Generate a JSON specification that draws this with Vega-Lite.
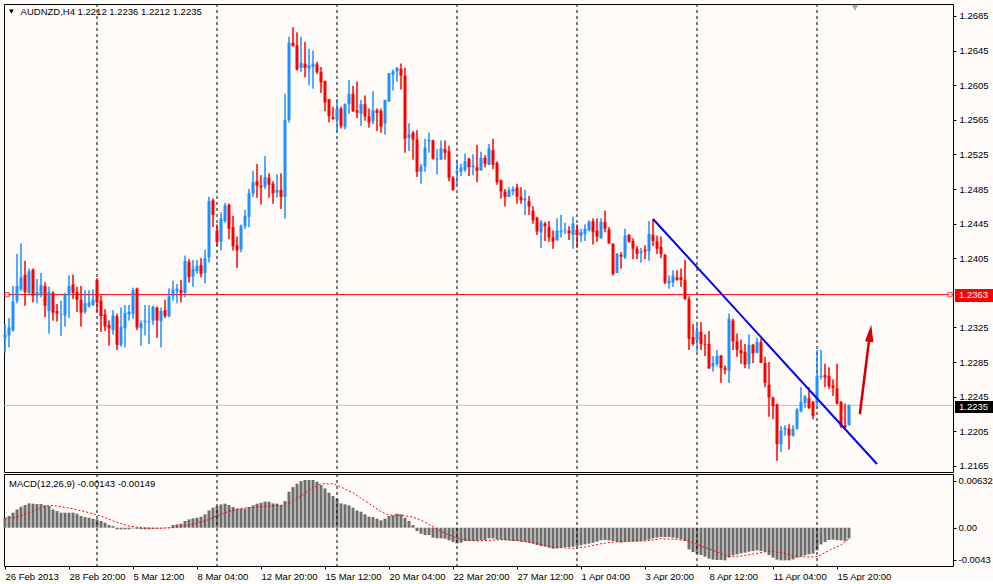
{
  "$schema": "https://vega.github.io/schema/vega-lite/v6.json",
  "background": "#FFFBF8",
  "padding": {"left": 2, "top": 3, "right": 0, "bottom": 0},
  "spacing": 0,
  "datasets": {
    "bars": [
      {"i":0,"o":1.2313,"h":1.2329,"l":1.2296,"c":1.2317,"m":0.00125},
      {"i":1,"o":1.2316,"h":1.2336,"l":1.2302,"c":1.2325,"m":0.00157},
      {"i":2,"o":1.2322,"h":1.2373,"l":1.2320,"c":1.2355,"m":0.00202},
      {"i":3,"o":1.2356,"h":1.2410,"l":1.2353,"c":1.2373,"m":0.00246},
      {"i":4,"o":1.2369,"h":1.2422,"l":1.2367,"c":1.2383,"m":0.00282},
      {"i":5,"o":1.2386,"h":1.2402,"l":1.2350,"c":1.2366,"m":0.00305},
      {"i":6,"o":1.2365,"h":1.2393,"l":1.2364,"c":1.2390,"m":0.00327},
      {"i":7,"o":1.2392,"h":1.2393,"l":1.2354,"c":1.2362,"m":0.00323},
      {"i":8,"o":1.2362,"h":1.2381,"l":1.2353,"c":1.2366,"m":0.00318},
      {"i":9,"o":1.2364,"h":1.2388,"l":1.2360,"c":1.2374,"m":0.00318},
      {"i":10,"o":1.2373,"h":1.2377,"l":1.2337,"c":1.2350,"m":0.00300},
      {"i":11,"o":1.2344,"h":1.2372,"l":1.2318,"c":1.2366,"m":0.00291},
      {"i":12,"o":1.2365,"h":1.2367,"l":1.2333,"c":1.2342,"m":0.00246},
      {"i":13,"o":1.2344,"h":1.2352,"l":1.2332,"c":1.2341,"m":0.00224},
      {"i":14,"o":1.2340,"h":1.2356,"l":1.2315,"c":1.2341,"m":0.00202},
      {"i":15,"o":1.2339,"h":1.2365,"l":1.2326,"c":1.2363,"m":0.00202},
      {"i":16,"o":1.2362,"h":1.2385,"l":1.2336,"c":1.2373,"m":0.00202},
      {"i":17,"o":1.2375,"h":1.2386,"l":1.2358,"c":1.2365,"m":0.00202},
      {"i":18,"o":1.2366,"h":1.2372,"l":1.2343,"c":1.2357,"m":0.00188},
      {"i":19,"o":1.2357,"h":1.2373,"l":1.2326,"c":1.2342,"m":0.00157},
      {"i":20,"o":1.2343,"h":1.2368,"l":1.2341,"c":1.2353,"m":0.00143},
      {"i":21,"o":1.2350,"h":1.2368,"l":1.2348,"c":1.2354,"m":0.00134},
      {"i":22,"o":1.2351,"h":1.2369,"l":1.2350,"c":1.2357,"m":0.00121},
      {"i":23,"o":1.2380,"h":1.2382,"l":1.2343,"c":1.2354,"m":0.00112},
      {"i":24,"o":1.2356,"h":1.2362,"l":1.2320,"c":1.2338,"m":0.00090},
      {"i":25,"o":1.2340,"h":1.2346,"l":1.2321,"c":1.2326,"m":0.00067},
      {"i":26,"o":1.2328,"h":1.2333,"l":1.2304,"c":1.2324,"m":0.00036},
      {"i":27,"o":1.2322,"h":1.2345,"l":1.2317,"c":1.2339,"m":0.00022},
      {"i":28,"o":1.2338,"h":1.2341,"l":1.2299,"c":1.2305,"m":-0.00022},
      {"i":29,"o":1.2305,"h":1.2348,"l":1.2303,"c":1.2326,"m":-0.00022},
      {"i":30,"o":1.2324,"h":1.2351,"l":1.2302,"c":1.2342,"m":-0.00022},
      {"i":31,"o":1.2340,"h":1.2351,"l":1.2333,"c":1.2343,"m":-0.00022},
      {"i":32,"o":1.2341,"h":1.2371,"l":1.2335,"c":1.2368,"m":-0.00010},
      {"i":33,"o":1.2370,"h":1.2371,"l":1.2322,"c":1.2325,"m":-0.00015},
      {"i":34,"o":1.2324,"h":1.2333,"l":1.2304,"c":1.2330,"m":-0.00020},
      {"i":35,"o":1.2331,"h":1.2351,"l":1.2316,"c":1.2333,"m":-0.00022},
      {"i":36,"o":1.2331,"h":1.2351,"l":1.2306,"c":1.2332,"m":-0.00022},
      {"i":37,"o":1.2333,"h":1.2350,"l":1.2328,"c":1.2349,"m":-0.00015},
      {"i":38,"o":1.2348,"h":1.2349,"l":1.2313,"c":1.2333,"m":-0.00013},
      {"i":39,"o":1.2332,"h":1.2348,"l":1.2302,"c":1.2344,"m":-0.00009},
      {"i":40,"o":1.2345,"h":1.2357,"l":1.2336,"c":1.2338,"m":-0.00004},
      {"i":41,"o":1.2338,"h":1.2370,"l":1.2337,"c":1.2361,"m":0.00009},
      {"i":42,"o":1.2361,"h":1.2379,"l":1.2356,"c":1.2369,"m":0.00036},
      {"i":43,"o":1.2367,"h":1.2375,"l":1.2353,"c":1.2370,"m":0.00045},
      {"i":44,"o":1.2368,"h":1.2380,"l":1.2354,"c":1.2365,"m":0.00054},
      {"i":45,"o":1.2365,"h":1.2408,"l":1.2360,"c":1.2402,"m":0.00090},
      {"i":46,"o":1.2401,"h":1.2404,"l":1.2377,"c":1.2383,"m":0.00112},
      {"i":47,"o":1.2384,"h":1.2403,"l":1.2372,"c":1.2393,"m":0.00125},
      {"i":48,"o":1.2390,"h":1.2403,"l":1.2387,"c":1.2396,"m":0.00134},
      {"i":49,"o":1.2397,"h":1.2405,"l":1.2383,"c":1.2387,"m":0.00148},
      {"i":50,"o":1.2388,"h":1.2415,"l":1.2376,"c":1.2405,"m":0.00179},
      {"i":51,"o":1.2406,"h":1.2476,"l":1.2400,"c":1.2471,"m":0.00233},
      {"i":52,"o":1.2472,"h":1.2474,"l":1.2441,"c":1.2455,"m":0.00269},
      {"i":53,"o":1.2437,"h":1.2444,"l":1.2419,"c":1.2424,"m":0.00291},
      {"i":54,"o":1.2424,"h":1.2458,"l":1.2414,"c":1.2451,"m":0.00314},
      {"i":55,"o":1.2448,"h":1.2469,"l":1.2446,"c":1.2466,"m":0.00323},
      {"i":56,"o":1.2467,"h":1.2468,"l":1.2427,"c":1.2439,"m":0.00305},
      {"i":57,"o":1.2441,"h":1.2454,"l":1.2414,"c":1.2419,"m":0.00278},
      {"i":58,"o":1.2420,"h":1.2430,"l":1.2394,"c":1.2414,"m":0.00255},
      {"i":59,"o":1.2415,"h":1.2444,"l":1.2412,"c":1.2442,"m":0.00255},
      {"i":60,"o":1.2442,"h":1.2461,"l":1.2439,"c":1.2454,"m":0.00255},
      {"i":61,"o":1.2453,"h":1.2485,"l":1.2441,"c":1.2480,"m":0.00278},
      {"i":62,"o":1.2480,"h":1.2506,"l":1.2476,"c":1.2493,"m":0.00300},
      {"i":63,"o":1.2494,"h":1.2514,"l":1.2475,"c":1.2489,"m":0.00323},
      {"i":64,"o":1.2489,"h":1.2501,"l":1.2467,"c":1.2487,"m":0.00336},
      {"i":65,"o":1.2488,"h":1.2523,"l":1.2485,"c":1.2499,"m":0.00350},
      {"i":66,"o":1.2498,"h":1.2503,"l":1.2475,"c":1.2490,"m":0.00350},
      {"i":67,"o":1.2491,"h":1.2494,"l":1.2468,"c":1.2480,"m":0.00327},
      {"i":68,"o":1.2481,"h":1.2502,"l":1.2475,"c":1.2484,"m":0.00323},
      {"i":69,"o":1.2484,"h":1.2503,"l":1.2462,"c":1.2476,"m":0.00305},
      {"i":70,"o":1.2476,"h":1.2595,"l":1.2451,"c":1.2565,"m":0.00358},
      {"i":71,"o":1.2565,"h":1.2661,"l":1.2562,"c":1.2654,"m":0.00484},
      {"i":72,"o":1.2654,"h":1.2672,"l":1.2650,"c":1.2650,"m":0.00546},
      {"i":73,"o":1.2651,"h":1.2666,"l":1.2622,"c":1.2623,"m":0.00591},
      {"i":74,"o":1.2625,"h":1.2661,"l":1.2620,"c":1.2631,"m":0.00627},
      {"i":75,"o":1.2630,"h":1.2655,"l":1.2614,"c":1.2625,"m":0.00641},
      {"i":76,"o":1.2624,"h":1.2647,"l":1.2605,"c":1.2628,"m":0.00641},
      {"i":77,"o":1.2626,"h":1.2645,"l":1.2601,"c":1.2630,"m":0.00641},
      {"i":78,"o":1.2629,"h":1.2632,"l":1.2618,"c":1.2620,"m":0.00618},
      {"i":79,"o":1.2620,"h":1.2626,"l":1.2596,"c":1.2608,"m":0.00573},
      {"i":80,"o":1.2610,"h":1.2610,"l":1.2575,"c":1.2585,"m":0.00529},
      {"i":81,"o":1.2589,"h":1.2589,"l":1.2562,"c":1.2569,"m":0.00470},
      {"i":82,"o":1.2568,"h":1.2580,"l":1.2565,"c":1.2566,"m":0.00426},
      {"i":83,"o":1.2565,"h":1.2589,"l":1.2550,"c":1.2578,"m":0.00390},
      {"i":84,"o":1.2578,"h":1.2580,"l":1.2555,"c":1.2558,"m":0.00327},
      {"i":85,"o":1.2557,"h":1.2584,"l":1.2554,"c":1.2583,"m":0.00314},
      {"i":86,"o":1.2583,"h":1.2611,"l":1.2572,"c":1.2595,"m":0.00300},
      {"i":87,"o":1.2595,"h":1.2604,"l":1.2574,"c":1.2575,"m":0.00269},
      {"i":88,"o":1.2576,"h":1.2609,"l":1.2567,"c":1.2573,"m":0.00233},
      {"i":89,"o":1.2572,"h":1.2588,"l":1.2558,"c":1.2583,"m":0.00215},
      {"i":90,"o":1.2583,"h":1.2593,"l":1.2564,"c":1.2569,"m":0.00179},
      {"i":91,"o":1.2569,"h":1.2578,"l":1.2556,"c":1.2562,"m":0.00148},
      {"i":92,"o":1.2563,"h":1.2598,"l":1.2560,"c":1.2576,"m":0.00143},
      {"i":93,"o":1.2576,"h":1.2578,"l":1.2552,"c":1.2573,"m":0.00121},
      {"i":94,"o":1.2575,"h":1.2578,"l":1.2550,"c":1.2557,"m":0.00099},
      {"i":95,"o":1.2561,"h":1.2588,"l":1.2548,"c":1.2588,"m":0.00121},
      {"i":96,"o":1.2586,"h":1.2619,"l":1.2586,"c":1.2619,"m":0.00157},
      {"i":97,"o":1.2617,"h":1.2623,"l":1.2599,"c":1.2621,"m":0.00166},
      {"i":98,"o":1.2621,"h":1.2626,"l":1.2609,"c":1.2625,"m":0.00188},
      {"i":99,"o":1.2624,"h":1.2630,"l":1.2600,"c":1.2616,"m":0.00179},
      {"i":100,"o":1.2616,"h":1.2625,"l":1.2527,"c":1.2543,"m":0.00134},
      {"i":101,"o":1.2544,"h":1.2561,"l":1.2529,"c":1.2548,"m":0.00090},
      {"i":102,"o":1.2550,"h":1.2552,"l":1.2519,"c":1.2542,"m":0.00036},
      {"i":103,"o":1.2542,"h":1.2553,"l":1.2499,"c":1.2505,"m":-0.00045},
      {"i":104,"o":1.2505,"h":1.2514,"l":1.2491,"c":1.2511,"m":-0.00081},
      {"i":105,"o":1.2511,"h":1.2543,"l":1.2505,"c":1.2533,"m":-0.00099},
      {"i":106,"o":1.2540,"h":1.2550,"l":1.2527,"c":1.2542,"m":-0.00099},
      {"i":107,"o":1.2541,"h":1.2542,"l":1.2519,"c":1.2520,"m":-0.00134},
      {"i":108,"o":1.2519,"h":1.2531,"l":1.2502,"c":1.2520,"m":-0.00143},
      {"i":109,"o":1.2519,"h":1.2541,"l":1.2519,"c":1.2532,"m":-0.00143},
      {"i":110,"o":1.2531,"h":1.2541,"l":1.2519,"c":1.2527,"m":-0.00148},
      {"i":111,"o":1.2529,"h":1.2535,"l":1.2494,"c":1.2498,"m":-0.00170},
      {"i":112,"o":1.2498,"h":1.2500,"l":1.2483,"c":1.2484,"m":-0.00193},
      {"i":113,"o":1.2504,"h":1.2519,"l":1.2489,"c":1.2506,"m":-0.00211},
      {"i":114,"o":1.2505,"h":1.2514,"l":1.2500,"c":1.2510,"m":-0.00202},
      {"i":115,"o":1.2507,"h":1.2526,"l":1.2505,"c":1.2517,"m":-0.00179},
      {"i":116,"o":1.2520,"h":1.2521,"l":1.2500,"c":1.2510,"m":-0.00179},
      {"i":117,"o":1.2510,"h":1.2525,"l":1.2501,"c":1.2512,"m":-0.00179},
      {"i":118,"o":1.2510,"h":1.2536,"l":1.2493,"c":1.2506,"m":-0.00179},
      {"i":119,"o":1.2507,"h":1.2528,"l":1.2506,"c":1.2521,"m":-0.00170},
      {"i":120,"o":1.2521,"h":1.2524,"l":1.2510,"c":1.2514,"m":-0.00166},
      {"i":121,"o":1.2513,"h":1.2537,"l":1.2513,"c":1.2532,"m":-0.00143},
      {"i":122,"o":1.2530,"h":1.2543,"l":1.2508,"c":1.2513,"m":-0.00143},
      {"i":123,"o":1.2515,"h":1.2517,"l":1.2490,"c":1.2493,"m":-0.00157},
      {"i":124,"o":1.2495,"h":1.2496,"l":1.2474,"c":1.2482,"m":-0.00161},
      {"i":125,"o":1.2482,"h":1.2485,"l":1.2465,"c":1.2476,"m":-0.00166},
      {"i":126,"o":1.2476,"h":1.2487,"l":1.2476,"c":1.2484,"m":-0.00170},
      {"i":127,"o":1.2482,"h":1.2488,"l":1.2478,"c":1.2485,"m":-0.00179},
      {"i":128,"o":1.2487,"h":1.2491,"l":1.2468,"c":1.2476,"m":-0.00179},
      {"i":129,"o":1.2476,"h":1.2487,"l":1.2468,"c":1.2472,"m":-0.00188},
      {"i":130,"o":1.2472,"h":1.2484,"l":1.2455,"c":1.2474,"m":-0.00193},
      {"i":131,"o":1.2471,"h":1.2477,"l":1.2455,"c":1.2465,"m":-0.00202},
      {"i":132,"o":1.2460,"h":1.2465,"l":1.2445,"c":1.2449,"m":-0.00215},
      {"i":133,"o":1.2452,"h":1.2453,"l":1.2432,"c":1.2436,"m":-0.00233},
      {"i":134,"o":1.2435,"h":1.2449,"l":1.2417,"c":1.2447,"m":-0.00246},
      {"i":135,"o":1.2445,"h":1.2447,"l":1.2425,"c":1.2442,"m":-0.00255},
      {"i":136,"o":1.2441,"h":1.2448,"l":1.2424,"c":1.2429,"m":-0.00269},
      {"i":137,"o":1.2429,"h":1.2437,"l":1.2416,"c":1.2424,"m":-0.00282},
      {"i":138,"o":1.2426,"h":1.2451,"l":1.2425,"c":1.2437,"m":-0.00278},
      {"i":139,"o":1.2435,"h":1.2455,"l":1.2429,"c":1.2437,"m":-0.00269},
      {"i":140,"o":1.2437,"h":1.2446,"l":1.2433,"c":1.2438,"m":-0.00260},
      {"i":141,"o":1.2437,"h":1.2442,"l":1.2426,"c":1.2434,"m":-0.00260},
      {"i":142,"o":1.2432,"h":1.2453,"l":1.2416,"c":1.2445,"m":-0.00255},
      {"i":143,"o":1.2438,"h":1.2444,"l":1.2417,"c":1.2432,"m":-0.00246},
      {"i":144,"o":1.2431,"h":1.2439,"l":1.2424,"c":1.2435,"m":-0.00237},
      {"i":145,"o":1.2433,"h":1.2444,"l":1.2425,"c":1.2439,"m":-0.00224},
      {"i":146,"o":1.2437,"h":1.2449,"l":1.2436,"c":1.2447,"m":-0.00215},
      {"i":147,"o":1.2448,"h":1.2451,"l":1.2421,"c":1.2435,"m":-0.00202},
      {"i":148,"o":1.2437,"h":1.2451,"l":1.2424,"c":1.2430,"m":-0.00188},
      {"i":149,"o":1.2428,"h":1.2451,"l":1.2428,"c":1.2447,"m":-0.00170},
      {"i":150,"o":1.2447,"h":1.2460,"l":1.2435,"c":1.2439,"m":-0.00166},
      {"i":151,"o":1.2438,"h":1.2441,"l":1.2422,"c":1.2422,"m":-0.00170},
      {"i":152,"o":1.2422,"h":1.2422,"l":1.2385,"c":1.2387,"m":-0.00179},
      {"i":153,"o":1.2388,"h":1.2411,"l":1.2388,"c":1.2410,"m":-0.00193},
      {"i":154,"o":1.2409,"h":1.2412,"l":1.2393,"c":1.2407,"m":-0.00202},
      {"i":155,"o":1.2406,"h":1.2439,"l":1.2404,"c":1.2431,"m":-0.00193},
      {"i":156,"o":1.2432,"h":1.2433,"l":1.2423,"c":1.2424,"m":-0.00188},
      {"i":157,"o":1.2425,"h":1.2428,"l":1.2404,"c":1.2416,"m":-0.00188},
      {"i":158,"o":1.2416,"h":1.2419,"l":1.2404,"c":1.2410,"m":-0.00184},
      {"i":159,"o":1.2411,"h":1.2417,"l":1.2400,"c":1.2413,"m":-0.00179},
      {"i":160,"o":1.2415,"h":1.2420,"l":1.2404,"c":1.2413,"m":-0.00170},
      {"i":161,"o":1.2413,"h":1.2448,"l":1.2402,"c":1.2433,"m":-0.00161},
      {"i":162,"o":1.2432,"h":1.2450,"l":1.2419,"c":1.2425,"m":-0.00143},
      {"i":163,"o":1.2425,"h":1.2431,"l":1.2410,"c":1.2416,"m":-0.00134},
      {"i":164,"o":1.2418,"h":1.2430,"l":1.2405,"c":1.2410,"m":-0.00125},
      {"i":165,"o":1.2409,"h":1.2410,"l":1.2375,"c":1.2377,"m":-0.00125},
      {"i":166,"o":1.2376,"h":1.2385,"l":1.2370,"c":1.2379,"m":-0.00125},
      {"i":167,"o":1.2377,"h":1.2391,"l":1.2372,"c":1.2385,"m":-0.00134},
      {"i":168,"o":1.2383,"h":1.2391,"l":1.2379,"c":1.2380,"m":-0.00143},
      {"i":169,"o":1.2383,"h":1.2393,"l":1.2372,"c":1.2380,"m":-0.00157},
      {"i":170,"o":1.2380,"h":1.2403,"l":1.2357,"c":1.2358,"m":-0.00179},
      {"i":171,"o":1.2358,"h":1.2361,"l":1.2299,"c":1.2312,"m":-0.00291},
      {"i":172,"o":1.2314,"h":1.2329,"l":1.2304,"c":1.2306,"m":-0.00327},
      {"i":173,"o":1.2310,"h":1.2329,"l":1.2297,"c":1.2321,"m":-0.00349},
      {"i":174,"o":1.2320,"h":1.2331,"l":1.2299,"c":1.2306,"m":-0.00367},
      {"i":175,"o":1.2306,"h":1.2317,"l":1.2292,"c":1.2305,"m":-0.00390},
      {"i":176,"o":1.2306,"h":1.2321,"l":1.2277,"c":1.2278,"m":-0.00417},
      {"i":177,"o":1.2280,"h":1.2292,"l":1.2274,"c":1.2284,"m":-0.00430},
      {"i":178,"o":1.2283,"h":1.2299,"l":1.2280,"c":1.2292,"m":-0.00435},
      {"i":179,"o":1.2293,"h":1.2293,"l":1.2261,"c":1.2278,"m":-0.00435},
      {"i":180,"o":1.2278,"h":1.2281,"l":1.2271,"c":1.2276,"m":-0.00439},
      {"i":181,"o":1.2275,"h":1.2341,"l":1.2261,"c":1.2335,"m":-0.00403},
      {"i":182,"o":1.2333,"h":1.2335,"l":1.2299,"c":1.2309,"m":-0.00372},
      {"i":183,"o":1.2309,"h":1.2318,"l":1.2291,"c":1.2299,"m":-0.00358},
      {"i":184,"o":1.2299,"h":1.2311,"l":1.2283,"c":1.2295,"m":-0.00345},
      {"i":185,"o":1.2297,"h":1.2306,"l":1.2278,"c":1.2282,"m":-0.00336},
      {"i":186,"o":1.2283,"h":1.2317,"l":1.2277,"c":1.2305,"m":-0.00323},
      {"i":187,"o":1.2305,"h":1.2306,"l":1.2284,"c":1.2295,"m":-0.00314},
      {"i":188,"o":1.2296,"h":1.2313,"l":1.2295,"c":1.2308,"m":-0.00305},
      {"i":189,"o":1.2308,"h":1.2312,"l":1.2284,"c":1.2284,"m":-0.00314},
      {"i":190,"o":1.2284,"h":1.2291,"l":1.2256,"c":1.2261,"m":-0.00323},
      {"i":191,"o":1.2259,"h":1.2285,"l":1.2222,"c":1.2244,"m":-0.00367},
      {"i":192,"o":1.2244,"h":1.2245,"l":1.2219,"c":1.2234,"m":-0.00403},
      {"i":193,"o":1.2236,"h":1.2237,"l":1.2171,"c":1.2190,"m":-0.00430},
      {"i":194,"o":1.2190,"h":1.2211,"l":1.2181,"c":1.2206,"m":-0.00439},
      {"i":195,"o":1.2207,"h":1.2212,"l":1.2200,"c":1.2209,"m":-0.00439},
      {"i":196,"o":1.2208,"h":1.2213,"l":1.2184,"c":1.2200,"m":-0.00439},
      {"i":197,"o":1.2200,"h":1.2212,"l":1.2199,"c":1.2208,"m":-0.00426},
      {"i":198,"o":1.2208,"h":1.2232,"l":1.2207,"c":1.2230,"m":-0.00403},
      {"i":199,"o":1.2228,"h":1.2256,"l":1.2227,"c":1.2239,"m":-0.00390},
      {"i":200,"o":1.2238,"h":1.2247,"l":1.2232,"c":1.2245,"m":-0.00372},
      {"i":201,"o":1.2243,"h":1.2256,"l":1.2231,"c":1.2232,"m":-0.00358},
      {"i":202,"o":1.2239,"h":1.2240,"l":1.2219,"c":1.2223,"m":-0.00349},
      {"i":203,"o":1.2238,"h":1.2299,"l":1.2231,"c":1.2269,"m":-0.00305},
      {"i":204,"o":1.2268,"h":1.2299,"l":1.2265,"c":1.2269,"m":-0.00224},
      {"i":205,"o":1.2270,"h":1.2283,"l":1.2256,"c":1.2267,"m":-0.00193},
      {"i":206,"o":1.2269,"h":1.2279,"l":1.2254,"c":1.2257,"m":-0.00166},
      {"i":207,"o":1.2258,"h":1.2265,"l":1.2246,"c":1.2255,"m":-0.00161},
      {"i":208,"o":1.2255,"h":1.2283,"l":1.2236,"c":1.2237,"m":-0.00166},
      {"i":209,"o":1.2239,"h":1.2240,"l":1.2209,"c":1.2211,"m":-0.00170},
      {"i":210,"o":1.2212,"h":1.2237,"l":1.2207,"c":1.2209,"m":-0.00179},
      {"i":211,"o":1.2212,"h":1.2236,"l":1.2212,"c":1.2235,"m":-0.00143}
    ],
    "signal": [
      {"i":0,"s":0.00125},{"i":2,"s":0.00134},{"i":5,"s":0.00179},{"i":8,"s":0.00246},
      {"i":10,"s":0.00291},{"i":12,"s":0.00300},{"i":14,"s":0.00282},{"i":17,"s":0.00255},
      {"i":21,"s":0.00202},{"i":24,"s":0.00157},{"i":27,"s":0.00090},{"i":31,"s":0.00022},
      {"i":34,"s":0.0},{"i":38,"s":-0.00009},{"i":41,"s":-0.00004},{"i":44,"s":0.00013},
      {"i":47,"s":0.00045},{"i":50,"s":0.00090},{"i":53,"s":0.00157},{"i":55,"s":0.00202},
      {"i":57,"s":0.00233},{"i":59,"s":0.00260},{"i":63,"s":0.00278},{"i":66,"s":0.00291},
      {"i":69,"s":0.00300},{"i":72,"s":0.00349},{"i":74,"s":0.00426},{"i":77,"s":0.00538},
      {"i":79,"s":0.00591},{"i":82,"s":0.00591},{"i":84,"s":0.00546},{"i":87,"s":0.00470},
      {"i":89,"s":0.00394},{"i":92,"s":0.00291},{"i":94,"s":0.00215},{"i":96,"s":0.00170},
      {"i":99,"s":0.00166},{"i":102,"s":0.00143},{"i":105,"s":0.00076},{"i":108,"s":-0.00022},
      {"i":111,"s":-0.00099},{"i":114,"s":-0.00157},{"i":118,"s":-0.00179},{"i":121,"s":-0.00170},
      {"i":124,"s":-0.00161},{"i":128,"s":-0.00170},{"i":132,"s":-0.00202},{"i":137,"s":-0.00260},
      {"i":142,"s":-0.00278},{"i":145,"s":-0.00260},{"i":149,"s":-0.00215},{"i":153,"s":-0.00188},
      {"i":157,"s":-0.00179},{"i":160,"s":-0.00179},{"i":164,"s":-0.00148},{"i":168,"s":-0.00157},
      {"i":171,"s":-0.00179},{"i":174,"s":-0.00246},{"i":177,"s":-0.00305},{"i":181,"s":-0.00390},
      {"i":184,"s":-0.00381},{"i":188,"s":-0.00345},{"i":191,"s":-0.00314},{"i":194,"s":-0.00336},
      {"i":197,"s":-0.00381},{"i":200,"s":-0.00394},{"i":203,"s":-0.00390},{"i":205,"s":-0.00336},
      {"i":207,"s":-0.00278},{"i":209,"s":-0.00233},{"i":211,"s":-0.00149}
    ],
    "vlines": [{"i":23},{"i":53},{"i":83},{"i":113},{"i":143},{"i":173},{"i":203}],
    "trend": [{"i":162,"p":1.24504},{"i":218,"p":1.21673}],
    "arrow": [{"i":213.7,"p":1.22247},{"i":216.0,"p":1.23094}],
    "arrowhead": [{"i":216.3,"p":1.23183}],
    "hline": [{"p":1.2363,"label":"1.2363"}],
    "bid": [{"p":1.2235,"label":"1.2235"}],
    "marks": [{"i":0.5},{"i":236.25}],
    "one": [{}]
  },
  "resolve": {"scale": {"x": "independent", "y": "independent"}},
  "vconcat": [
    {
      "width": 949,
      "height": 468,
      "resolve": {"axis": {"x": "independent", "y": "independent"}},
      "layer": [
        {
          "data": {"name": "bars"},
          "mark": {"type": "rule", "strokeWidth": 1},
          "encoding": {
            "x": {"field": "i", "type": "quantitative", "scale": {"domain": [-0.25, 237], "nice": false, "zero": false, "padding": 0}, "axis": null},
            "y": {
              "field": "l", "type": "quantitative",
              "scale": {"domain": [1.21580, 1.26988], "nice": false, "zero": false, "padding": 0},
              "axis": {
                "orient": "right", "title": null,
                "values": [1.2165, 1.2205, 1.2245, 1.2285, 1.2325, 1.2405, 1.2445, 1.2485, 1.2525, 1.2565, 1.2605, 1.2645, 1.2685],
                "format": ".4f", "tickSize": 3, "labelPadding": 3, "labelBaseline": "middle",
                "labelOverlap": false, "labelBound": false
              }
            },
            "y2": {"field": "h"},
            "color": {"condition": {"test": "datum.c >= datum.o", "value": "#1E90FF"}, "value": "#FF0000"}
          }
        },
        {
          "data": {"name": "vlines"},
          "mark": {"type": "rule", "color": "#000000", "strokeWidth": 1, "strokeDash": [3, 3]},
          "encoding": {
            "x": {"field": "i", "type": "quantitative", "axis": null}
          }
        },
        {
          "data": {"name": "bid"},
          "mark": {"type": "rule", "color": "#C0C0C0", "strokeWidth": 1},
          "encoding": {"y": {"field": "p", "type": "quantitative", "axis": null}}
        },
        {
          "data": {"name": "hline"},
          "mark": {"type": "rule", "color": "#FF0000", "strokeWidth": 1},
          "encoding": {"y": {"field": "p", "type": "quantitative", "axis": null}}
        },
        {
          "data": {"name": "marks"},
          "mark": {"type": "point", "shape": "square", "size": 18, "filled": false, "stroke": "#FF0000", "strokeWidth": 1, "fill": "#FFFBF8"},
          "encoding": {
            "x": {"field": "i", "type": "quantitative", "axis": null},
            "y": {"datum": 1.2363, "type": "quantitative", "axis": null}
          }
        },
        {
          "data": {"name": "bars"},
          "mark": {"type": "rule", "strokeWidth": 1},
          "encoding": {
            "x": {"field": "i", "type": "quantitative", "axis": null},
            "y": {"field": "l", "type": "quantitative", "axis": null},
            "y2": {"field": "h"},
            "color": {"condition": {"test": "datum.c >= datum.o", "value": "#1E90FF"}, "value": "#FF0000"}
          }
        },
        {
          "data": {"name": "bars"},
          "mark": {"type": "bar", "size": 3},
          "encoding": {
            "x": {"field": "i", "type": "quantitative", "axis": null},
            "y": {"field": "o", "type": "quantitative", "axis": null},
            "y2": {"field": "c"},
            "color": {"condition": {"test": "datum.c >= datum.o", "value": "#1E90FF"}, "value": "#FF0000"}
          }
        },
        {
          "data": {"name": "trend"},
          "mark": {"type": "line", "color": "#0000FF", "strokeWidth": 2},
          "encoding": {
            "x": {"field": "i", "type": "quantitative", "axis": null},
            "y": {"field": "p", "type": "quantitative", "axis": null}
          }
        },
        {
          "data": {"name": "arrow"},
          "mark": {"type": "line", "color": "#D40000", "strokeWidth": 2.5},
          "encoding": {
            "x": {"field": "i", "type": "quantitative", "axis": null},
            "y": {"field": "p", "type": "quantitative", "axis": null}
          }
        },
        {
          "data": {"name": "arrowhead"},
          "mark": {"type": "point", "shape": "M0,-1L0.5,1L-0.5,1Z", "size": 289, "filled": true, "color": "#D40000", "opacity": 1, "angle": 7},
          "encoding": {
            "x": {"field": "i", "type": "quantitative", "axis": null},
            "y": {"field": "p", "type": "quantitative", "axis": null}
          }
        },
        {
          "data": {"name": "hline"},
          "mark": {"type": "rect", "color": "#FF0000"},
          "encoding": {
            "x": {"datum": 237.5, "type": "quantitative", "axis": null},
            "x2": {"datum": 247},
            "y": {"datum": 1.23695, "type": "quantitative", "axis": null},
            "y2": {"datum": 1.23545}
          }
        },
        {
          "data": {"name": "hline"},
          "mark": {"type": "text", "color": "#FFFFFF", "align": "left", "baseline": "middle", "fontSize": 9.5},
          "encoding": {
            "x": {"datum": 238.5, "type": "quantitative", "axis": null},
            "y": {"datum": 1.2362, "type": "quantitative", "axis": null},
            "text": {"field": "label"}
          }
        },
        {
          "data": {"name": "bid"},
          "mark": {"type": "rect", "color": "#000000"},
          "encoding": {
            "x": {"datum": 237.5, "type": "quantitative", "axis": null},
            "x2": {"datum": 247},
            "y": {"datum": 1.22401, "type": "quantitative", "axis": null},
            "y2": {"datum": 1.22262}
          }
        },
        {
          "data": {"name": "bid"},
          "mark": {"type": "text", "color": "#FFFFFF", "align": "left", "baseline": "middle", "fontSize": 9.5},
          "encoding": {
            "x": {"datum": 238.5, "type": "quantitative", "axis": null},
            "y": {"datum": 1.22332, "type": "quantitative", "axis": null},
            "text": {"field": "label"}
          }
        },
        {
          "data": {"name": "one"},
          "mark": {"type": "point", "shape": "triangle-down", "size": 22, "filled": true, "color": "#000000", "opacity": 1},
          "encoding": {
            "x": {"datum": 1.6, "type": "quantitative", "axis": null},
            "y": {"datum": 1.26900, "type": "quantitative", "axis": null}
          }
        },
        {
          "data": {"name": "one"},
          "mark": {"type": "point", "shape": "triangle-down", "size": 45, "filled": true, "color": "#A8A8A8", "opacity": 1},
          "encoding": {
            "x": {"datum": 212.5, "type": "quantitative", "axis": null},
            "y": {"datum": 1.26945, "type": "quantitative", "axis": null}
          }
        },
        {
          "data": {"name": "one"},
          "mark": {"type": "text", "text": "AUDNZD,H4  1.2212 1.2236 1.2212 1.2235", "align": "left", "baseline": "middle", "fontSize": 9.5, "color": "#000000"},
          "encoding": {
            "x": {"datum": 3.9, "type": "quantitative", "axis": null},
            "y": {"datum": 1.26896, "type": "quantitative", "axis": null}
          }
        }
      ]
    },
    {
      "width": 949,
      "height": 92,
      "layer": [
        {
          "data": {"name": "bars"},
          "mark": {"type": "bar", "size": 3, "color": "#6E6E6E"},
          "encoding": {
            "x": {
              "field": "i", "type": "quantitative",
              "scale": {"domain": [-0.25, 237], "nice": false, "zero": false, "padding": 0},
              "axis": {
                "orient": "bottom", "title": null,
                "values": [0, 16, 32, 48, 64, 80, 96, 112, 128, 144, 160, 176, 192, 208],
                "labelExpr": "['26 Feb 2013','28 Feb 20:00','5 Mar 12:00','8 Mar 04:00','12 Mar 20:00','15 Mar 12:00','20 Mar 04:00','22 Mar 20:00','27 Mar 12:00','1 Apr 04:00','3 Apr 20:00','8 Apr 12:00','11 Apr 04:00','15 Apr 20:00'][round(datum.value / 16)]",
                "labelAlign": "left", "labelBaseline": "top", "labelPadding": 2, "tickSize": 3,
                "labelFlush": false, "labelOverlap": false, "labelBound": false
              }
            },
            "y": {
              "field": "m", "type": "quantitative",
              "scale": {"domain": [-0.00515, 0.00722], "nice": false, "zero": false, "padding": 0},
              "axis": {
                "orient": "right", "title": null,
                "values": [-0.0043, 0, 0.00632],
                "labelExpr": "datum.value == 0 ? '0.00' : (datum.value > 0 ? '0.00632' : '-0.0043')",
                "tickSize": 3, "labelPadding": 2, "labelBaseline": "middle", "labelOverlap": false
              }
            },
            "y2": {"datum": 0}
          }
        },
        {
          "data": {"name": "vlines"},
          "mark": {"type": "rule", "color": "#000000", "strokeWidth": 1, "strokeDash": [3, 3]},
          "encoding": {
            "x": {"field": "i", "type": "quantitative"}
          }
        },
        {
          "data": {"name": "signal"},
          "mark": {"type": "line", "color": "#FF0000", "strokeWidth": 1, "strokeDash": [2, 2]},
          "encoding": {
            "x": {"field": "i", "type": "quantitative"},
            "y": {"field": "s", "type": "quantitative"}
          }
        },
        {
          "data": {"name": "one"},
          "mark": {"type": "text", "text": "MACD(12,26,9) -0.00143 -0.00149", "align": "left", "baseline": "middle", "fontSize": 9.5, "color": "#000000"},
          "encoding": {
            "x": {"datum": 1.0, "type": "quantitative"},
            "y": {"datum": 0.00588, "type": "quantitative"}
          }
        }
      ]
    }
  ],
  "config": {
    "view": {"stroke": "#000000", "strokeWidth": 1, "fill": "#FFFBF8"},
    "axis": {
      "labelFont": "Liberation Sans", "labelFontSize": 9.5, "labelColor": "#000000",
      "tickColor": "#000000", "tickWidth": 1, "domain": false, "grid": false,
      "labelOverlap": false
    },
    "text": {"font": "Liberation Sans"}
  }
}
